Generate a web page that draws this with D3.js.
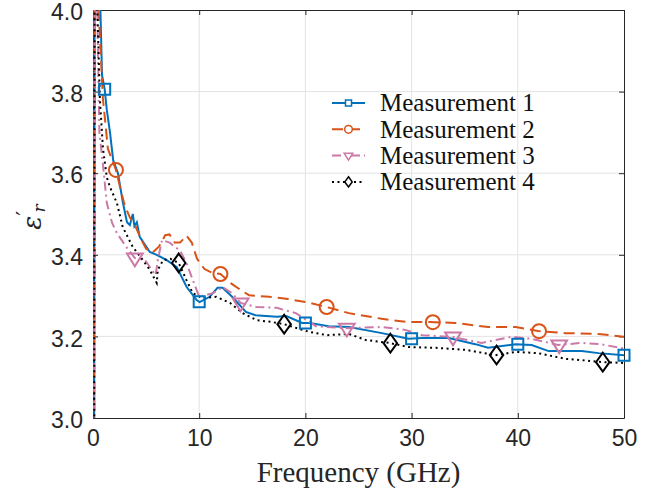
<!DOCTYPE html>
<html>
<head>
<meta charset="utf-8">
<script src="https://cdn.jsdelivr.net/npm/d3@7"></script>
<style>
  body { margin: 0; background: #fff; }
  svg { display: block; }
</style>
</head>
<body>
<svg id="chart" width="664" height="503"></svg>
<script>
// frequency (GHz), relative permittivity (real part)
var m1 = [[0.1,2.6],[0.16,4.3],[0.45,4.2],[0.7,4.0],[0.85,3.84],[1.1,3.806],[1.3,3.755],[1.6,3.70],[1.9,3.632],[2.35,3.60],
  [2.8,3.53],[3.2,3.48],[3.47,3.473],[3.75,3.50],[3.9,3.47],[4.13,3.48],[4.4,3.444],[5.35,3.407],[6.0,3.40],[6.94,3.387],
  [7.88,3.37],[8.82,3.321],[9.76,3.289],[10.04,3.284],[10.98,3.297],[11.73,3.319],[12.2,3.319],[13.1,3.297],[14.4,3.26],
  [15.3,3.252],[17.3,3.248],[18.2,3.25],[19.7,3.233],[20.4,3.233],[22.2,3.225],[24.1,3.223],[27.2,3.208],[29.7,3.194],
  [31.0,3.196],[33.5,3.196],[36.0,3.181],[37.2,3.172],[39.8,3.181],[41.3,3.179],[42.9,3.164],[46.0,3.164],[47.6,3.159],[50,3.154]];
var m2 = [[0.1,2.6],[0.16,4.3],[0.35,4.1],[0.94,3.78],[1.1,3.74],[1.4,3.66],[2.16,3.608],[2.6,3.56],[3.0,3.52],[3.5,3.49],
  [4.0,3.47],[4.5,3.44],[5.0,3.415],[5.6,3.405],[6.2,3.42],[6.8,3.448],[7.2,3.45],[7.7,3.43],[8.2,3.43],[8.8,3.447],
  [9.3,3.43],[9.8,3.39],[10.5,3.365],[11.3,3.355],[12.0,3.353],[13.0,3.33],[14.0,3.312],[14.7,3.301],[16.6,3.297],
  [18.2,3.292],[20.1,3.284],[22.0,3.272],[24.1,3.257],[27.2,3.243],[29.7,3.235],[31.8,3.235],[34.1,3.233],[37.2,3.223],
  [39.8,3.223],[41.9,3.213],[44.5,3.208],[47.6,3.206],[50,3.199]];
var m3 = [[0.1,2.6],[0.16,4.3],[0.4,4.0],[0.5,3.85],[0.6,3.7],[0.94,3.62],[1.3,3.527],[1.8,3.478],[2.25,3.453],[3.2,3.417],
  [3.94,3.392],[4.9,3.387],[5.35,3.37],[5.9,3.35],[6.1,3.387],[6.5,3.436],[7.2,3.43],[8.2,3.41],[8.8,3.38],[9.4,3.338],
  [10.0,3.297],[11.3,3.306],[12.2,3.321],[13.1,3.306],[13.9,3.282],[15.4,3.272],[17.3,3.27],[19.1,3.257],[21.0,3.225],
  [23.8,3.22],[27.2,3.223],[29.4,3.216],[31.0,3.203],[33.8,3.199],[36.6,3.184],[39.4,3.199],[41.3,3.194],[43.8,3.179],
  [46.0,3.184],[47.8,3.181],[50,3.17]];
var m4 = [[0.1,2.6],[0.16,4.3],[0.3,4.1],[0.65,3.78],[0.94,3.66],[1.3,3.59],[1.6,3.566],[2.25,3.527],[2.8,3.468],[3.75,3.419],
  [4.7,3.387],[5.35,3.363],[6.0,3.331],[6.1,3.363],[6.6,3.387],[7.3,3.39],[8.07,3.38],[8.8,3.338],[9.4,3.306],[10.3,3.294],
  [11.6,3.297],[12.9,3.282],[14.1,3.257],[15.4,3.24],[16.9,3.235],[18.0,3.23],[19.7,3.216],[20.4,3.211],[22.0,3.203],
  [24.1,3.206],[25.7,3.191],[27.9,3.184],[29.7,3.174],[32.3,3.172],[35.1,3.167],[37.9,3.154],[39.8,3.162],[41.9,3.159],
  [44.5,3.145],[46.0,3.142],[47.9,3.137],[50,3.135]];

var m1Markers = [1.1, 10, 20, 30, 40, 50];
var m2Markers = [2.16, 12, 22, 32, 42];
var m3Markers = [3.94, 13.9, 23.9, 33.9, 43.9];
var m4Markers = [8.07, 18, 28, 38, 48];

var seriesNames = ['Measurement 1', 'Measurement 2', 'Measurement 3', 'Measurement 4'];
var xTicks = [0, 10, 20, 30, 40, 50];
var yTicks = [3.0, 3.2, 3.4, 3.6, 3.8, 4.0];

var series = [
  {name: seriesNames[0], data: m1, marks: m1Markers, color: '#0072BD', dash: null, shape: 'square'},
  {name: seriesNames[1], data: m2, marks: m2Markers, color: '#D95319', dash: '11,6', shape: 'circle'},
  {name: seriesNames[2], data: m3, marks: m3Markers, color: '#CC79A7', dash: '9,4,2,4', shape: 'triangle'},
  {name: seriesNames[3], data: m4, marks: m4Markers, color: '#000000', dash: '2,3.5', shape: 'diamond'}
];

var margin = {left: 93, right: 40, top: 10, bottom: 85};
var svg = d3.select('#chart');
var W = +svg.attr('width'), H = +svg.attr('height');
var w = W - margin.left - margin.right, h = H - margin.top - margin.bottom;

var x = d3.scaleLinear().domain([0, 50]).range([0, w]);
var y = d3.scaleLinear().domain([3, 4]).range([h, 0]);
var axisColor = '#262626';

var g = svg.append('g').attr('transform', 'translate(' + margin.left + ',' + margin.top + ')');

svg.append('defs').append('clipPath').attr('id', 'plotClip')
  .append('rect').attr('x', 0).attr('y', 0).attr('width', w).attr('height', h);

// grid
g.append('g').selectAll('line').data(xTicks.slice(1, -1)).enter().append('line')
  .attr('x1', function(d) { return x(d); }).attr('x2', function(d) { return x(d); })
  .attr('y1', 0).attr('y2', h)
  .attr('stroke', '#e3e3e3').attr('stroke-width', 1);
g.append('g').selectAll('line').data(yTicks.slice(1, -1)).enter().append('line')
  .attr('y1', function(d) { return y(d); }).attr('y2', function(d) { return y(d); })
  .attr('x1', 0).attr('x2', w)
  .attr('stroke', '#e3e3e3').attr('stroke-width', 1);

// axes (ticks inside, mirrored on top/right)
var fmtY = d3.format('.1f');
var styleAxis = function(sel) {
  sel.select('.domain').attr('stroke', axisColor).attr('stroke-width', 1);
  sel.selectAll('.tick line').attr('stroke', axisColor);
  sel.selectAll('.tick text').attr('fill', axisColor)
    .style('font-family', '"Liberation Sans", Arial, sans-serif').style('font-size', '23px');
};
g.append('g').attr('transform', 'translate(0,' + h + ')')
  .call(d3.axisBottom(x).tickValues(xTicks).tickSizeInner(-5).tickSizeOuter(0).tickPadding(12))
  .call(styleAxis);
g.append('g')
  .call(d3.axisLeft(y).tickValues(yTicks).tickFormat(fmtY).tickSizeInner(-5).tickSizeOuter(0).tickPadding(10))
  .call(styleAxis)
  .selectAll('.tick text').attr('dy', '0.42em');
g.append('g')
  .call(d3.axisTop(x).tickValues(xTicks).tickSizeInner(-5).tickSizeOuter(0).tickFormat(''))
  .call(styleAxis);
g.append('g').attr('transform', 'translate(' + w + ',0)')
  .call(d3.axisRight(y).tickValues(yTicks).tickSizeInner(-5).tickSizeOuter(0).tickFormat(''))
  .call(styleAxis);

// lines
var line = d3.line().x(function(d) { return x(d[0]); }).y(function(d) { return y(d[1]); });
var plot = g.append('g').attr('clip-path', 'url(#plotClip)');
plot.selectAll('path.series').data(series).enter().append('path')
  .attr('class', 'series')
  .attr('d', function(d) { return line(d.data); })
  .attr('fill', 'none')
  .attr('stroke', function(d) { return d.color; })
  .attr('stroke-width', 2)
  .attr('stroke-dasharray', function(d) { return d.dash; });

var valueAt = function(data, f) {
  for (var i = 1; i < data.length; i++) {
    if (data[i][0] >= f) {
      var a = data[i - 1], b = data[i];
      return a[1] + (b[1] - a[1]) * (f - a[0]) / (b[0] - a[0]);
    }
  }
  return data[data.length - 1][1];
};

var markerPath = function(shape, s) {
  if (shape === 'square') { return 'M' + (-s) + ',' + (-s) + 'H' + s + 'V' + s + 'H' + (-s) + 'Z'; }
  if (shape === 'circle') { return 'M' + s + ',0A' + s + ',' + s + ' 0 1,1 ' + (-s) + ',0A' + s + ',' + s + ' 0 1,1 ' + s + ',0Z'; }
  if (shape === 'triangle') { return 'M' + (-s * 1.05) + ',' + (-s * 0.6) + 'H' + (s * 1.05) + 'L0,' + (s * 1.1) + 'Z'; }
  return 'M0,' + (-s * 1.25) + 'L' + (s * 0.9) + ',0L0,' + (s * 1.25) + 'L' + (-s * 0.9) + ',0Z';
};
var markerSize = {square: 5.5, circle: 7, triangle: 7.5, diamond: 7.5};

series.forEach(function(s) {
  g.append('g').selectAll('path').data(s.marks).enter().append('path')
    .attr('transform', function(f) { return 'translate(' + x(f) + ',' + y(valueAt(s.data, f)) + ')'; })
    .attr('d', markerPath(s.shape, markerSize[s.shape]))
    .attr('fill', 'none')
    .attr('stroke', s.color)
    .attr('stroke-width', 2);
});

// legend
var legend = g.append('g').attr('transform', 'translate(239,93)');
var rows = legend.selectAll('g').data(series).enter().append('g')
  .attr('transform', function(d, i) { return 'translate(0,' + (i * 26.3) + ')'; });
rows.append('line')
  .attr('x1', 0).attr('x2', 33).attr('y1', 0).attr('y2', 0)
  .attr('stroke', function(d) { return d.color; })
  .attr('stroke-width', 2)
  .attr('stroke-dasharray', function(d) { return d.dash; });
rows.append('path')
  .attr('transform', 'translate(16.5,0)')
  .attr('d', function(d) { return markerPath(d.shape, markerSize[d.shape] * 0.55); })
  .attr('fill', '#fff')
  .attr('stroke', function(d) { return d.color; })
  .attr('stroke-width', 1.5);
rows.append('text')
  .attr('x', 48).attr('y', 0).attr('dy', '0.33em')
  .style('font-family', '"Liberation Serif", "Times New Roman", serif')
  .style('font-size', '25px')
  .attr('fill', '#111')
  .text(function(d) { return d.name; });

// axis labels
svg.append('text')
  .attr('x', margin.left + w / 2).attr('y', 482)
  .attr('text-anchor', 'middle')
  .style('font-family', '"Liberation Serif", "Times New Roman", serif')
  .style('font-size', '29px')
  .attr('fill', axisColor)
  .text('Frequency (GHz)');

var yl = svg.append('text')
  .attr('transform', 'translate(41,217) rotate(-90)')
  .attr('text-anchor', 'middle')
  .style('font-family', '"DejaVu Serif", serif')
  .style('font-style', 'italic')
  .style('font-size', '26px')
  .attr('fill', axisColor);
yl.append('tspan').text('\u03b5');
yl.append('tspan').attr('dy', '-0.4em').style('font-style', 'normal').style('font-size', '22px').text('\u2032');
yl.append('tspan').attr('dy', '0.75em').attr('dx', '-0.1em').style('font-size', '17px').text('r');
</script>
</body>
</html>
